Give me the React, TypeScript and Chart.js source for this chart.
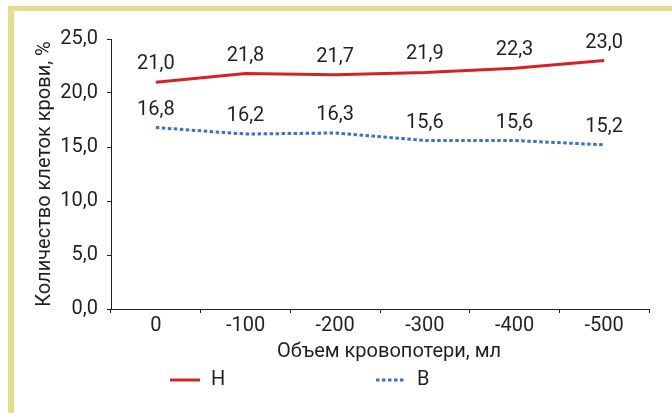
import React, { useEffect, useRef } from "react";
import { Chart, registerables } from "chart.js";

Chart.register(...registerables);

// Blood loss steps (ml) and cell counts (%) for the two groups
const categories = ["0", "-100", "-200", "-300", "-400", "-500"];
const seriesH = [21.0, 21.8, 21.7, 21.9, 22.3, 23.0];
const seriesB = [16.8, 16.2, 16.3, 15.6, 15.6, 15.2];
const seriesNames = ["Н", "В"];
const yTicks = [0, 5, 10, 15, 20, 25];
const xTitle = "Объем кровопотери, мл";
const yTitle = "Количество клеток крови, %";

const FONT = "'Liberation Sans Narrow', 'Arial Narrow', 'Roboto', sans-serif";
const TEXT = "#231f20";
const RED = "#d42229";
const BLUE = "#3d72c2";
const FRAME = "#e8dc8e";

const fmt = (v: number) => v.toFixed(1).replace(".", ",");

// Writes each value just above its point
const valueLabels = {
  id: "valueLabels",
  afterDatasetsDraw(chart: any) {
    const ctx = chart.ctx;
    ctx.save();
    ctx.font = `20px ${FONT}`;
    ctx.fillStyle = TEXT;
    ctx.textAlign = "center";
    ctx.textBaseline = "middle";
    chart.data.datasets.forEach((ds: any, i: number) => {
      const meta = chart.getDatasetMeta(i);
      meta.data.forEach((pt: any, j: number) => {
        ctx.fillText(fmt(ds.data[j]), pt.x, pt.y - 18);
      });
    });
    ctx.restore();
  },
};

// Horizontal axis title and the series key below it
const bottomText = {
  id: "bottomText",
  afterDraw(chart: any) {
    const ctx = chart.ctx;
    const { left, right } = chart.chartArea;
    ctx.save();
    ctx.font = `20px ${FONT}`;
    ctx.fillStyle = TEXT;
    ctx.textBaseline = "middle";
    ctx.textAlign = "center";
    ctx.fillText(xTitle, (left + right) / 2 + 9, 352);

    const y = 380;
    const items = [
      { x: left + 59, color: RED, dash: [] as number[], text: seriesNames[0] },
      { x: left + 265, color: BLUE, dash: [3.5, 2.5], text: seriesNames[1] },
    ];
    ctx.textAlign = "left";
    items.forEach((it) => {
      ctx.beginPath();
      ctx.setLineDash(it.dash);
      ctx.lineWidth = 3;
      ctx.strokeStyle = it.color;
      ctx.lineCap = "butt";
      ctx.moveTo(it.x, y);
      ctx.lineTo(it.x + 30, y);
      ctx.stroke();
      ctx.setLineDash([]);
      ctx.fillStyle = TEXT;
      ctx.fillText(it.text, it.x + 41, y);
    });
    ctx.restore();
  },
};

export default function App() {
  const ref = useRef<HTMLCanvasElement | null>(null);

  useEffect(() => {
    if (!ref.current) return;
    Chart.defaults.font.family = FONT;
    Chart.defaults.font.size = 20;
    Chart.defaults.color = TEXT;

    const chart = new Chart(ref.current, {
      type: "line",
      data: {
        labels: categories,
        datasets: [
          {
            label: seriesNames[0],
            data: seriesH,
            borderColor: RED,
            borderWidth: 3,
            pointRadius: 0,
            tension: 0,
          },
          {
            label: seriesNames[1],
            data: seriesB,
            borderColor: BLUE,
            borderWidth: 3,
            borderDash: [3.5, 2.5],
            pointRadius: 0,
            tension: 0,
          },
        ],
      },
      options: {
        animation: false,
        responsive: false,
        layout: { padding: { top: 39, right: 23, bottom: 0, left: 0 } },
        plugins: {
          legend: { display: false },
          tooltip: { enabled: false },
        },
        scales: {
          x: {
            offset: true,
            grid: {
              offset: true,
              drawOnChartArea: false,
              drawTicks: true,
              tickLength: 4,
              color: TEXT,
            },
            border: { color: TEXT, width: 1 },
            ticks: { padding: 1, color: TEXT, font: { size: 20 } },
            afterFit(scale: any) {
              scale.height = 104;
            },
          },
          y: {
            min: 0,
            max: 25,
            afterBuildTicks(scale: any) {
              scale.ticks = yTicks.map((v) => ({ value: v }));
            },
            grid: {
              drawOnChartArea: false,
              drawTicks: true,
              tickLength: 4,
              color: TEXT,
            },
            border: { color: TEXT, width: 1 },
            ticks: {
              padding: 9,
              color: TEXT,
              font: { size: 20 },
              callback: (v: any) => fmt(Number(v)),
            },
            title: {
              display: true,
              text: yTitle,
              color: TEXT,
              font: { size: 20 },
              padding: { top: 33, bottom: 0 },
            },
            afterFit(scale: any) {
              scale.width = 111;
            },
          },
        },
      },
      plugins: [valueLabels, bottomText],
    });
    return () => chart.destroy();
  }, []);

  return (
    <div
      style={{
        position: "fixed",
        left: 0,
        top: 0,
        width: 672,
        height: 413,
        overflow: "hidden",
        background: "#ffffff",
      }}
    >
      <div
        style={{
          position: "absolute",
          left: 8,
          top: 6,
          width: 700,
          height: 450,
          borderLeft: `6px solid ${FRAME}`,
          borderTop: `5px solid ${FRAME}`,
        }}
      />
      <canvas
        ref={ref}
        width={672}
        height={413}
        style={{ position: "absolute", left: 0, top: 0 }}
      />
    </div>
  );
}
